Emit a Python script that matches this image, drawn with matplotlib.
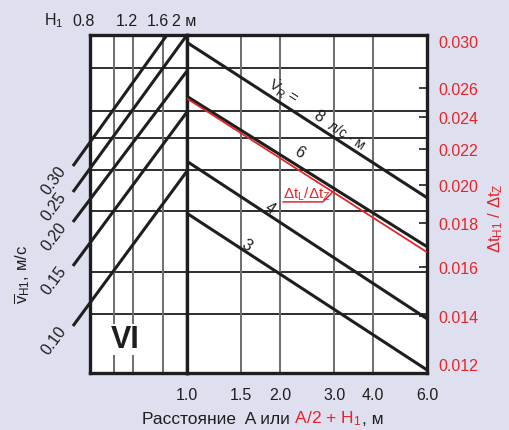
import numpy as np
import matplotlib
matplotlib.use('Agg')
import matplotlib.pyplot as plt
from matplotlib.ticker import NullLocator
from matplotlib.offsetbox import TextArea, HPacker, AnnotationBbox

plt.rcParams['font.family'] = ['Liberation Sans', 'DejaVu Sans']
plt.rcParams['mathtext.fontset'] = 'custom'
plt.rcParams['mathtext.rm'] = 'Liberation Sans'
plt.rcParams['mathtext.it'] = 'Liberation Sans:italic'
plt.rcParams['mathtext.bf'] = 'Liberation Sans:bold'
plt.rcParams['mathtext.default'] = 'regular'

RED = '#e4252b'
INK = '#1e1e1e'
GRAY = '#6e6e6e'
BG = '#dee0f0'

# distance A (or A/2 + H1), m -- log axis
dist = [1.0, 6.0]
dist_ticks = [1.0, 1.5, 2.0, 3.0, 4.0, 6.0]
dist_grid = [1.5, 2.0, 3.0, 4.0]

# dt_H1/dt_Z at A = 1.0 and A = 6.0 for V_R = 8, 6, 4, 3 l/(s*m)
vr_names = ['8', '6', '4', '3']
vr_lines = [[0.0294, 0.0193],
            [0.0254, 0.0169],
            [0.0213, 0.0139],
            [0.0185, 0.0121]]
ratio_L = [0.02525, 0.01665]   # dt_L/dt_Z

ratio_ticks = [0.012, 0.014, 0.016, 0.018, 0.020, 0.022, 0.024, 0.026, 0.030]
ratio_grid = [0.0141, 0.0158, 0.0186, 0.0208, 0.0227, 0.0244, 0.0274]

# H1 scale, m -- log axis
h1_lim = [0.8, 2.0]
h1_grid = [1.0, 1.2, 1.6]
h1_labels = ['0.8', '1.2', '1.6', '2 м']
h1_label_at = [0.8, 1.2, 1.6, 2.0]

# mean velocity v_H1, m/s -- diagonals (H1, ratio) end points
v_names = ['0.30', '0.25', '0.20', '0.15', '0.10']
v_h1 = [[0.681, 1.655], [0.681, 2.0], [0.681, 2.0], [0.681, 2.0], [0.681, 2.0]]
v_ratio = [[0.02103, 0.0300],
           [0.01960, 0.0300],
           [0.01807, 0.02721],
           [0.01604, 0.02435],
           [0.01363, 0.02074]]


def on_line(xs, ys, x):
    return 10 ** np.interp(np.log10(x), np.log10(xs), np.log10(ys))


def angle_of(ax, xs, ys):
    p = ax.transData.transform(np.column_stack([xs, ys]))
    return np.degrees(np.arctan2(p[1, 1] - p[0, 1], p[1, 0] - p[0, 0]))


def main():
    fig = plt.figure(figsize=(5.1, 4.31), dpi=100, facecolor=BG)
    axL = fig.add_axes([90 / 510, 57 / 431, 97 / 510, 338 / 431])
    axR = fig.add_axes([187 / 510, 57 / 431, 240 / 510, 338 / 431])

    for ax in (axL, axR):
        ax.set_facecolor('white')
        ax.set_xscale('log')
        ax.set_yscale('log')
        ax.set_ylim(ratio_ticks[0], ratio_ticks[-1])
        ax.xaxis.set_minor_locator(NullLocator())
        ax.yaxis.set_minor_locator(NullLocator())
        for s in ax.spines.values():
            s.set_linewidth(2.4)
            s.set_color(INK)
        for g in ratio_grid:
            ax.axhline(g, color=INK, lw=1.3, zorder=1)

    # left part: H1 scale with v_H1 diagonals
    axL.set_xlim(*h1_lim)
    axL.set_xticks([])
    axL.set_yticks([])
    for h in h1_grid:
        axL.axvline(h, color=GRAY, lw=1.4, zorder=1)
    for name, hs, rs in zip(v_names, v_h1, v_ratio):
        axL.plot(hs, rs, color=INK, lw=2.2, clip_on=False, zorder=3,
                 solid_capstyle='butt')
        ang = angle_of(axL, hs, rs)
        axL.annotate(name, xy=(hs[0], rs[0]), xytext=(-19, -14),
                     textcoords='offset pixels', rotation=ang,
                     rotation_mode='anchor', ha='center', va='center',
                     fontsize=11.5, color=INK, annotation_clip=False)
    for lab, h in zip(h1_labels, h1_label_at):
        dx = -3 if lab.endswith('м') else -6
        axL.annotate(lab, xy=(h, 1), xycoords=('data', 'axes fraction'),
                     xytext=(dx, 15), textcoords='offset pixels',
                     ha='center', va='center', fontsize=11.5, color=INK)
    axL.annotate('H$_1$', xy=(0, 1), xycoords='axes fraction',
                 xytext=(-36, 15), textcoords='offset pixels',
                 ha='center', va='center', fontsize=11.5, color=INK)
    axL.text(0.36, 0.10, 'VI', transform=axL.transAxes, fontsize=22,
             fontweight='bold', ha='center', va='center', color=INK, zorder=4,
             bbox=dict(fc='white', ec='none', pad=0.5))

    # right part: distance scale with ratio lines
    axR.set_xlim(dist[0], dist[-1])
    for d in dist_grid:
        axR.axvline(d, color=GRAY, lw=1.4, zorder=1)
    for vals in vr_lines:
        axR.plot(dist, vals, color=INK, lw=2.2, zorder=3)
    axR.plot(dist, ratio_L, color=RED, lw=1.3, zorder=3)

    ang = angle_of(axR, dist, vr_lines[0])
    # (text, line index, A position, pixel lift above line, size)
    marks = [(r'$\dot{V}_{R}$ =', 0, 2.05, 14, 11),
             (vr_names[0], 0, 2.66, 12, 11.5),
             ('л/с · м', 0, 3.28, 11, 10),
             (vr_names[1], 1, 2.32, 15, 11.5),
             (vr_names[2], 2, 1.86, 8, 11.5),
             (vr_names[3], 3, 1.566, 8, 11.5)]
    for txt, i, a, lift, fs in marks:
        axR.annotate(txt, xy=(a, on_line(dist, vr_lines[i], a)),
                     xytext=(0, lift), textcoords='offset pixels',
                     rotation=ang, rotation_mode='anchor',
                     ha='center', va='center', fontsize=fs, color=INK)

    a_red = 2.97
    axR.annotate(r'$\Delta t_L/\Delta t_Z$', xy=(a_red, on_line(dist, ratio_L, a_red)),
                 xytext=(-50, -10), textcoords='offset pixels',
                 ha='left', va='bottom', fontsize=11, color=RED,
                 arrowprops=dict(arrowstyle='-', color=RED, lw=1.1,
                                 shrinkA=0, shrinkB=0, relpos=(0, 0),
                                 connectionstyle='angle,angleA=0,angleB=45,rad=0'))

    axR.set_xticks(dist_ticks, labels=[f'{d:.1f}' for d in dist_ticks])
    axR.tick_params(axis='x', length=0, pad=10, labelsize=11.5, labelcolor=INK)
    axR.set_yticks(ratio_ticks, labels=[f'{r:.3f}' for r in ratio_ticks])
    axR.yaxis.tick_right()
    axR.tick_params(axis='y', direction='in', length=6, width=1.2, color=INK,
                    labelcolor=RED, pad=8, labelsize=11.5)
    ylabs = axR.get_yticklabels()
    ylabs[0].set_va('bottom')
    ylabs[-1].set_va('top')

    # axis titles
    fig.text(22 / 510, 1 - 274 / 431, r'$\overline{v}_{H1}$, м/с', rotation=90,
             ha='center', va='center', fontsize=12, color=INK)
    fig.text(496 / 510, 1 - 218 / 431, r'$\Delta t_{H1}$ / $\Delta t_Z$',
             rotation=90, ha='center', va='center', fontsize=12, color=RED)

    parts = [TextArea('Расстояние  A или', textprops=dict(color=INK, size=12.5)),
             TextArea(' A/2 + H$_1$', textprops=dict(color=RED, size=12.5)),
             TextArea(', м', textprops=dict(color=INK, size=12.5))]
    pack = HPacker(children=parts, align='baseline', pad=0, sep=0)
    fig.add_artist(AnnotationBbox(pack, (263 / 510, 1 - 419 / 431),
                                  xycoords='figure fraction', frameon=False,
                                  box_alignment=(0.5, 0.5)))

    fig.savefig('out.png', dpi=100, facecolor=BG)


if __name__ == "__main__":
    main()
